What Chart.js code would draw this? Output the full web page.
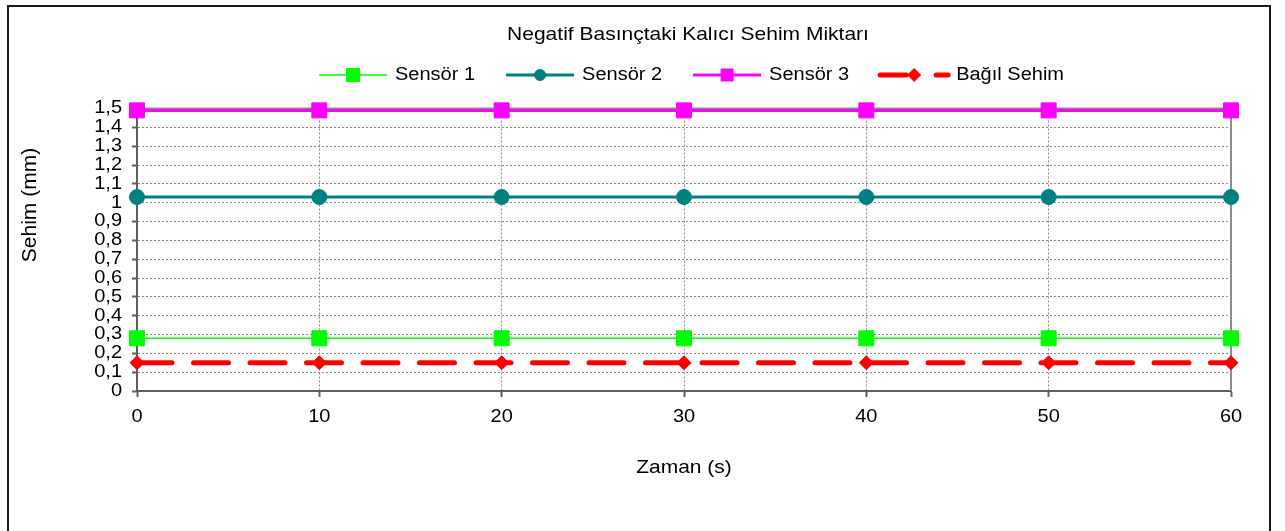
<!DOCTYPE html>
<html lang="tr">
<head>
<meta charset="utf-8">
<title>Negatif Basınçtaki Kalıcı Sehim Miktarı</title>
<script src="https://cdn.jsdelivr.net/npm/chart.js@4.4.1/dist/chart.umd.min.js"></script>
<style>
  html, body { margin: 0; padding: 0; background: #ffffff; }
  #wrap { width: 1285px; height: 531px; }
</style>
</head>
<body>
<div id="wrap"><canvas id="c" width="1285" height="531"></canvas></div>
<script>
// Time axis (s)
const zaman = [0, 10, 20, 30, 40, 50, 60];
const xTickLabels = ['0', '10', '20', '30', '40', '50', '60'];

// Permanent deflection per sensor (mm)
const sensor1 = [0.28, 0.28, 0.28, 0.28, 0.28, 0.28, 0.28];
const sensor2 = [1.03, 1.03, 1.03, 1.03, 1.03, 1.03, 1.03];
const sensor3 = [1.49, 1.49, 1.49, 1.49, 1.49, 1.49, 1.49];
const bagilSehim = [0.15, 0.15, 0.15, 0.15, 0.15, 0.15, 0.15];

// Y tick labels, decimal comma
const yTickLabels = ['0', '0,1', '0,2', '0,3', '0,4', '0,5', '0,6', '0,7', '0,8',
                     '0,9', '1', '1,1', '1,2', '1,3', '1,4', '1,5'];

const FONT = "'Liberation Sans', Arial, sans-serif";
const TEXT_SQUASH = 0.9;
const CHART_TITLE = 'Negatif Basınçtaki Kalıcı Sehim Miktarı';
const Y_TITLE = 'Sehim (mm)';

const points = (vals) => zaman.map((t, i) => ({ x: t, y: vals[i] }));

// Horizontal text is drawn slightly compressed vertically
const squashText = {
  id: 'squashText',
  beforeInit(chart) {
    const ctx = chart.ctx;
    const base = ctx.fillText;
    ctx.fillText = function (text, x, y, maxWidth) {
      const m = this.getTransform();
      const draw = (px, py) => (maxWidth === undefined
        ? base.call(this, text, px, py)
        : base.call(this, text, px, py, maxWidth));
      if (Math.abs(m.b) > 1e-6 || Math.abs(m.c) > 1e-6) { draw(x, y); return; }
      this.save();
      this.translate(x, y);
      this.scale(1, TEXT_SQUASH);
      draw(0, 0);
      this.restore();
    };
  }
};

// Outer frame, plot frame, titles and the legend
const decorations = {
  id: 'decorations',
  beforeDatasetsDraw(chart) {
    const { ctx, chartArea: a } = chart;
    ctx.save();
    ctx.strokeStyle = '#8c8c8c';
    ctx.lineWidth = 2;
    ctx.beginPath();
    ctx.moveTo(a.left, a.top);
    ctx.lineTo(a.right, a.top);
    ctx.lineTo(a.right, a.bottom);
    ctx.stroke();
    ctx.restore();
  },
  afterDraw(chart) {
    const ctx = chart.ctx;
    ctx.save();
    ctx.strokeStyle = '#1a1a1a';
    ctx.lineWidth = 2;
    ctx.strokeRect(8, 6, 1262, 600);

    // chart title
    ctx.font = '21px ' + FONT;
    ctx.fillStyle = '#000';
    ctx.textAlign = 'center';
    ctx.textBaseline = 'middle';
    ctx.fillText(CHART_TITLE, 688, 35);

    // y-axis title
    ctx.save();
    ctx.translate(30, 205);
    ctx.rotate(-Math.PI / 2);
    ctx.fillText(Y_TITLE, 0, 0);
    ctx.restore();

    // legend
    const y = 75;
    const lineLen = 68;
    let x = 319;
    ctx.font = '20px ' + FONT;
    ctx.textAlign = 'left';
    chart.data.datasets.forEach((ds) => {
      ctx.save();
      ctx.strokeStyle = ds.borderColor;
      ctx.lineWidth = ds.borderWidth;
      ctx.lineCap = ds.legendDash ? 'round' : 'butt';
      ctx.setLineDash(ds.legendDash || []);
      ctx.beginPath();
      ctx.moveTo(x, y);
      ctx.lineTo(x + lineLen, y);
      ctx.stroke();
      ctx.restore();

      ctx.save();
      ctx.fillStyle = ds.backgroundColor;
      ctx.strokeStyle = ds.borderColor;
      ctx.lineWidth = 1;
      Chart.helpers.drawPoint(ctx, {
        pointStyle: ds.pointStyle,
        radius: ds.legendPointRadius,
        borderWidth: 1,
        rotation: 0
      }, x + lineLen / 2, y);
      ctx.restore();

      const tx = x + lineLen + 8;
      ctx.fillStyle = '#000';
      ctx.fillText(ds.label, tx, y);
      x = tx + ctx.measureText(ds.label).width + 31;
    });
    ctx.restore();
  }
};

const ctx = document.getElementById('c').getContext('2d');

const chart = new Chart(ctx, {
  type: 'line',
  data: {
    datasets: [
      {
        label: 'Sensör 1',
        data: points(sensor1),
        borderColor: '#00ff00',
        backgroundColor: '#00ff00',
        borderWidth: 1.5,
        pointStyle: 'rect',
        pointRadius: 10.6,
        pointHoverRadius: 10.6,
        pointBorderWidth: 1,
        legendPointRadius: 9.2,
        clip: false
      },
      {
        label: 'Sensör 2',
        data: points(sensor2),
        borderColor: '#008080',
        backgroundColor: '#008080',
        borderWidth: 3,
        pointStyle: 'circle',
        pointRadius: 7.5,
        pointHoverRadius: 7.5,
        pointBorderWidth: 1,
        legendPointRadius: 5.5,
        clip: false
      },
      {
        label: 'Sensör 3',
        data: points(sensor3),
        borderColor: '#ff00ff',
        backgroundColor: '#ff00ff',
        borderWidth: 3,
        pointStyle: 'rect',
        pointRadius: 10.6,
        pointHoverRadius: 10.6,
        pointBorderWidth: 1,
        legendPointRadius: 8.5,
        clip: false
      },
      {
        label: 'Bağıl Sehim',
        data: points(bagilSehim),
        borderColor: '#ff0000',
        backgroundColor: '#ff0000',
        borderWidth: 5,
        borderDash: [35, 21.5],
        borderCapStyle: 'round',
        legendDash: [26, 30],
        pointStyle: 'rectRot',
        pointRadius: 7,
        pointHoverRadius: 7,
        pointBorderWidth: 1,
        legendPointRadius: 6.5,
        clip: false
      }
    ]
  },
  options: {
    responsive: false,
    animation: false,
    events: [],
    layout: { padding: { left: 10, right: 54, top: 108.5, bottom: 0 } },
    plugins: {
      legend: { display: false },
      tooltip: { enabled: false },
      title: { display: false }
    },
    scales: {
      x: {
        type: 'linear',
        min: 0,
        max: 60,
        afterFit(scale) { scale.height = 140; },
        ticks: {
          stepSize: 10,
          color: '#000',
          font: { family: FONT, size: 20 },
          padding: 8,
          maxRotation: 0,
          callback: (v) => xTickLabels[zaman.indexOf(v)] ?? ''
        },
        grid: {
          color: '#8a8a8a',
          lineWidth: 1,
          tickLength: 6,
          tickColor: '#5f5f5f',
          tickWidth: 2
        },
        border: { display: true, color: '#5f5f5f', width: 2, dash: [2, 2] },
        title: {
          display: true,
          text: 'Zaman (s)',
          color: '#000',
          font: { family: FONT, size: 21 },
          padding: { top: 0, bottom: 51 }
        }
      },
      y: {
        type: 'linear',
        min: 0,
        max: 1.5,
        afterFit(scale) { scale.width = 127; },
        ticks: {
          stepSize: 0.1,
          autoSkip: false,
          color: '#000',
          font: { family: FONT, size: 20, lineHeight: 1 },
          padding: 10,
          callback: (v) => yTickLabels[Math.round(v * 10)] ?? ''
        },
        grid: {
          color: '#8a8a8a',
          lineWidth: 1,
          tickLength: 5,
          tickColor: '#5f5f5f',
          tickWidth: 2
        },
        border: { display: true, color: '#5f5f5f', width: 2, dash: [2, 2] }
      }
    }
  },
  plugins: [squashText, decorations]
});
</script>
</body>
</html>
